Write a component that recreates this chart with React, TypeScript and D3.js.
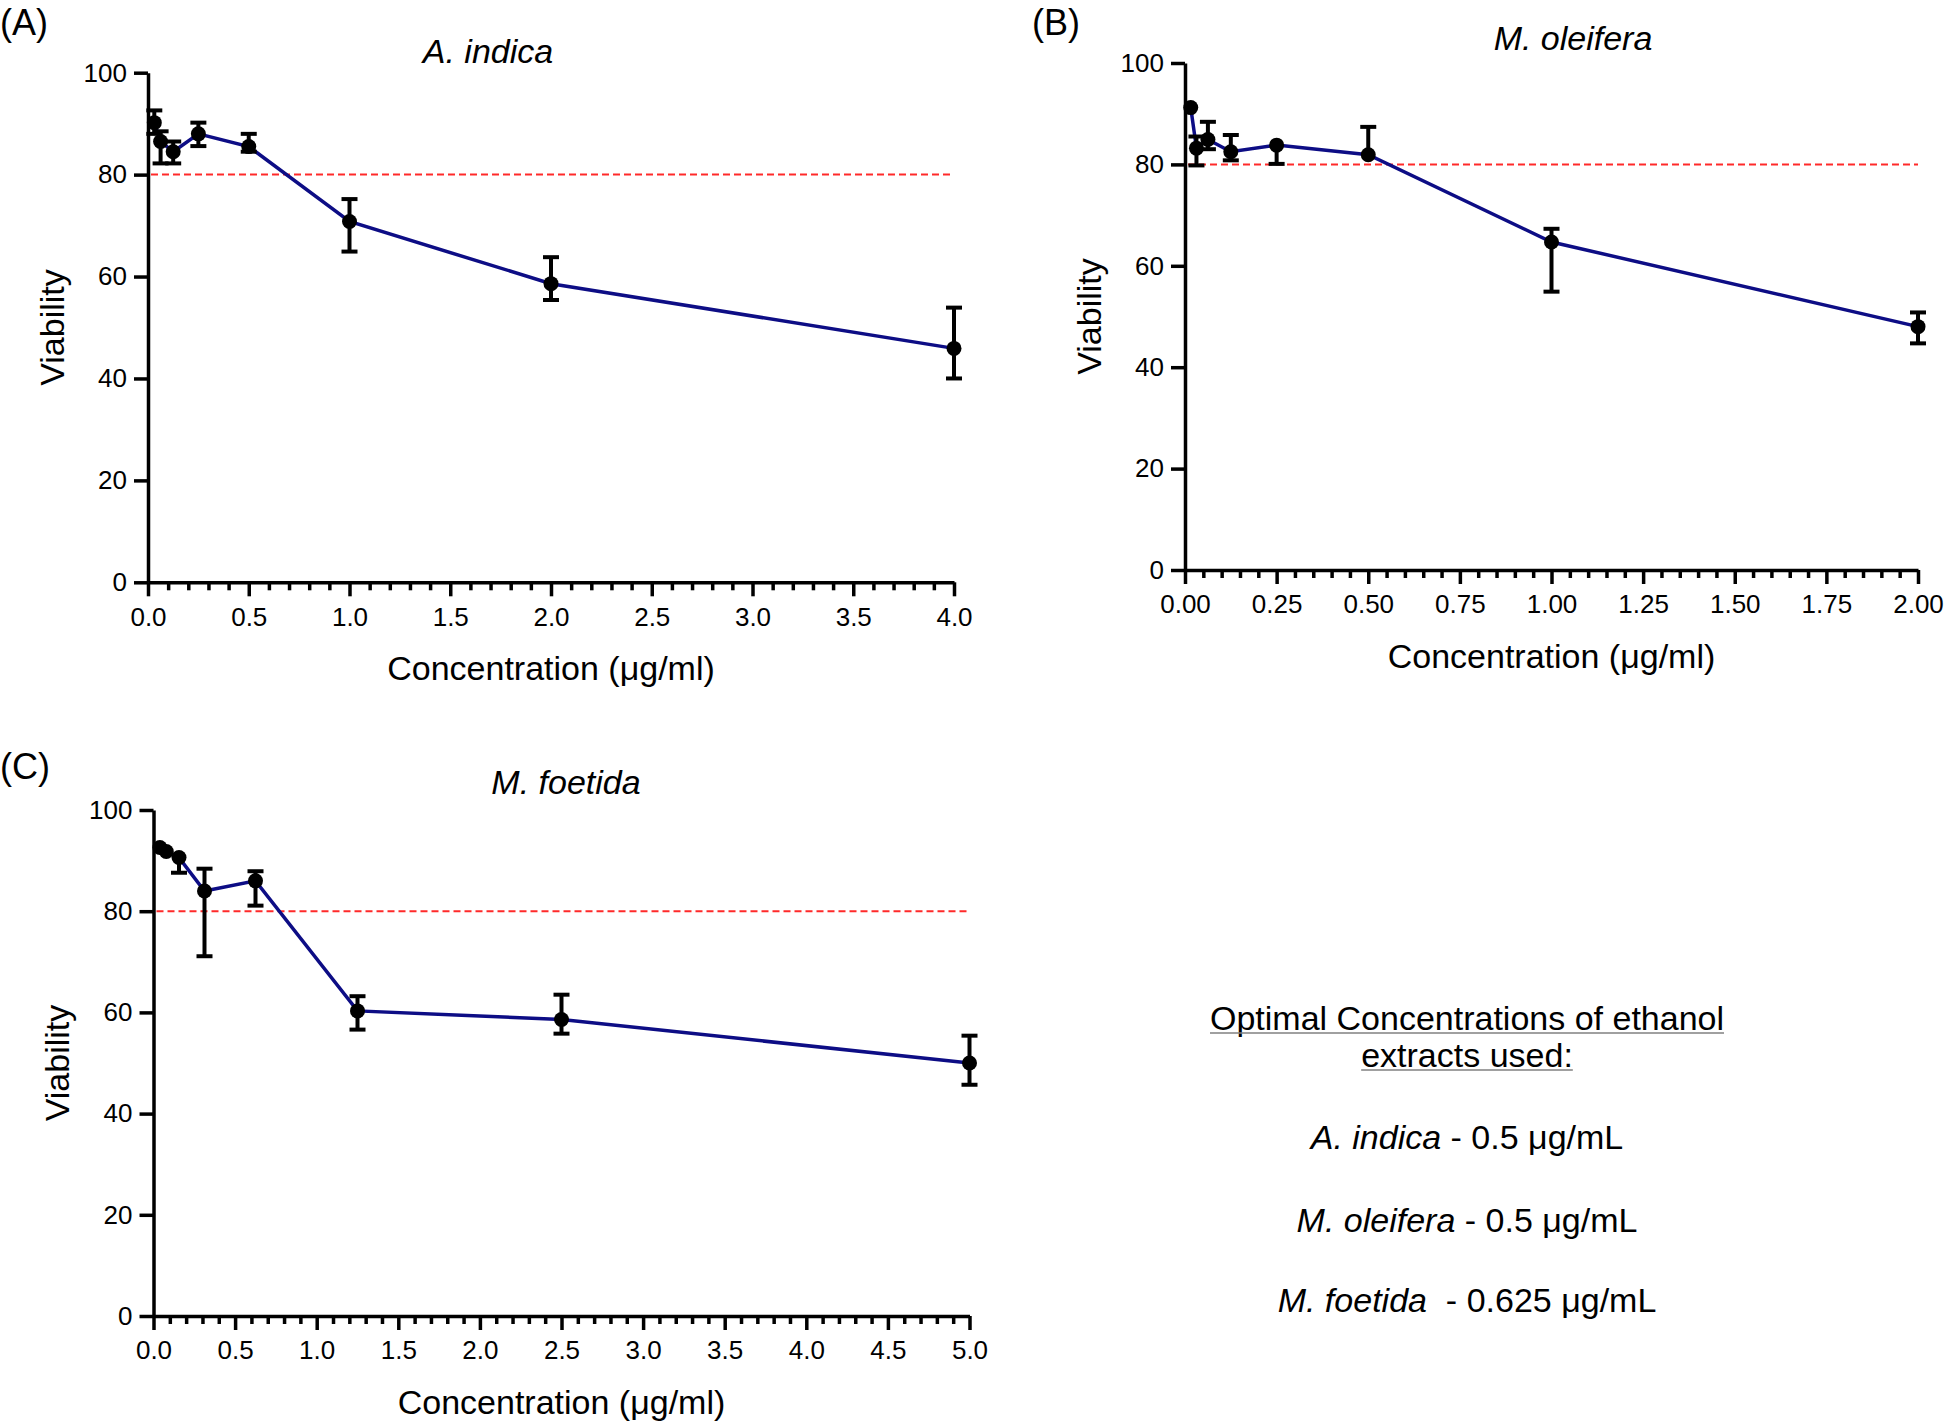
import React, { useRef, useEffect } from 'react'
import * as d3 from 'd3'

// (A) A. indica
const concA = [0.03125, 0.0625, 0.125, 0.25, 0.5, 1, 2, 4]
const meanA = [90.2, 86.5, 84.5, 88.0, 85.5, 70.8, 58.6, 45.9]
const hiA = [92.6, 88.5, 86.5, 90.2, 88.0, 75.2, 63.8, 53.9]
const loA = [88.0, 82.2, 82.2, 85.6, 84.5, 64.9, 55.4, 40.0]

// (B) M. oleifera
const concB = [0.015625, 0.03125, 0.0625, 0.125, 0.25, 0.5, 1, 2]
const meanB = [91.2, 83.2, 84.9, 82.5, 83.8, 81.9, 64.7, 48.0]
const hiB = [91.2, 85.5, 88.4, 85.8, 83.8, 87.4, 67.3, 50.8]
const loB = [91.2, 79.8, 83.0, 80.8, 80.1, 81.9, 54.9, 44.7]

// (C) M. foetida
const concC = [0.0390625, 0.078125, 0.15625, 0.3125, 0.625, 1.25, 2.5, 5]
const meanC = [92.6, 91.8, 90.6, 84.0, 86.0, 60.3, 58.6, 50.0]
const hiC = [92.6, 91.8, 90.6, 88.4, 87.9, 63.2, 63.5, 55.4]
const loC = [92.6, 91.8, 87.6, 71.1, 81.1, 56.6, 55.8, 45.7]

const yTicks = [0, 20, 40, 60, 80, 100]
const cutoff = 80

const noteLines = [
  { it: '', rest: 'Optimal Concentrations of ethanol', under: true },
  { it: '', rest: 'extracts used:', under: true },
  { it: 'A. indica', rest: ' - 0.5 μg/mL', under: false },
  { it: 'M. oleifera', rest: ' - 0.5 μg/mL', under: false },
  { it: 'M. foetida', rest: '  - 0.625 μg/mL', under: false },
]

const FONT = "'Liberation Sans', Arial, Helvetica, sans-serif"
const W = 1946
const H = 1424

const panels = [
  { letter: '(A)', title: 'A. indica', conc: concA, mean: meanA, hi: hiA, lo: loA, xMax: 4, xMajor: 0.5, xMinor: 0.1, fmt: '.1f',
    left: 148, right: 954, top: 72.7, bottom: 582.3, titleX: 488, titleY: 51, letterX: 0, letterY: 22 },
  { letter: '(B)', title: 'M. oleifera', conc: concB, mean: meanB, hi: hiB, lo: loB, xMax: 2, xMajor: 0.25, xMinor: 0.05, fmt: '.2f',
    left: 1185, right: 1918, top: 63, bottom: 570, titleX: 1573, titleY: 38.5, letterX: 1032, letterY: 22 },
  { letter: '(C)', title: 'M. foetida', conc: concC, mean: meanC, hi: hiC, lo: loC, xMax: 5, xMajor: 0.5, xMinor: 0.1, fmt: '.1f',
    left: 153.5, right: 969.5, top: 810, bottom: 1316, titleX: 566, titleY: 782, letterX: 0, letterY: 766 },
]

export default function App() {
  const svgRef = useRef<SVGSVGElement>(null)

  useEffect(() => {
    if (!svgRef.current) return
    const svg = d3.select(svgRef.current)
    svg.selectAll('*').remove()
    svg.append('rect').attr('width', W).attr('height', H).attr('fill', '#fff')

    panels.forEach(p => {
      const x = d3.scaleLinear().domain([0, p.xMax]).range([p.left, p.right])
      const y = d3.scaleLinear().domain([0, 100]).range([p.bottom, p.top])
      const g = svg.append('g')

      // panel letter + title
      g.append('text').attr('x', p.letterX).attr('y', p.letterY).attr('dy', '0.35em')
        .style('font-family', FONT).style('font-size', '36px').text(p.letter)
      g.append('text').attr('x', p.titleX).attr('y', p.titleY).attr('dy', '0.35em')
        .attr('text-anchor', 'middle').style('font-family', FONT).style('font-style', 'italic')
        .style('font-size', '34px').text(p.title)

      // cutoff line
      g.append('line')
        .attr('x1', x(0) + 3).attr('x2', x(p.xMax))
        .attr('y1', y(cutoff)).attr('y2', y(cutoff))
        .attr('stroke', '#ff2a2a').attr('stroke-width', 2).attr('stroke-dasharray', '7,4')

      // minor x ticks
      const majors = d3.range(0, p.xMax + 1e-9, p.xMajor)
      const minors = d3.range(0, p.xMax + 1e-9, p.xMinor)
        .filter(v => !majors.some(m => Math.abs(m - v) < 1e-6))
      g.append('g').attr('transform', `translate(0,${p.bottom})`)
        .call(d3.axisBottom(x).tickValues(minors).tickSize(8).tickSizeOuter(0).tickFormat(() => ''))
        .call(a => a.select('.domain').remove())
        .call(a => a.selectAll('line').attr('stroke', '#000').attr('stroke-width', 3.5))

      // major x axis
      g.append('g').attr('transform', `translate(0,${p.bottom})`)
        .call(d3.axisBottom(x).tickValues(majors).tickSize(14).tickSizeOuter(0).tickPadding(11)
          .tickFormat(d3.format(p.fmt)))
        .call(a => a.select('.domain').attr('stroke', '#000').attr('stroke-width', 3.5))
        .call(a => a.selectAll('line').attr('stroke', '#000').attr('stroke-width', 3.5))
        .call(a => a.selectAll('text').attr('fill', '#000').style('font-family', FONT).style('font-size', '26px'))

      // y axis
      g.append('g').attr('transform', `translate(${p.left},0)`)
        .call(d3.axisLeft(y).tickValues(yTicks).tickSize(14).tickSizeOuter(0).tickPadding(7))
        .call(a => a.select('.domain').attr('stroke', '#000').attr('stroke-width', 3.5))
        .call(a => a.selectAll('line').attr('stroke', '#000').attr('stroke-width', 3.5))
        .call(a => a.selectAll('text').attr('fill', '#000').style('font-family', FONT).style('font-size', '26px'))

      // axis titles
      g.append('text').attr('x', (p.left + p.right) / 2).attr('y', p.bottom + 86).attr('dy', '0.35em')
        .attr('text-anchor', 'middle').style('font-family', FONT).style('font-size', '34px')
        .text('Concentration (μg/ml)')
      g.append('text')
        .attr('transform', `translate(${p.left - 96},${(p.top + p.bottom) / 2}) rotate(-90)`)
        .attr('dy', '0.35em').attr('text-anchor', 'middle')
        .style('font-family', FONT).style('font-size', '34px').text('Viability')

      // data line
      const pts = p.conc.map((c, i) => [c, p.mean[i]] as [number, number])
      const line = d3.line<[number, number]>().x(d => x(d[0])).y(d => y(d[1]))
      g.append('path').datum(pts).attr('d', line).attr('fill', 'none')
        .attr('stroke', '#0d0d85').attr('stroke-width', 3.5)

      // error bars
      p.conc.forEach((c, i) => {
        const cx = x(c)
        if (p.hi[i] > p.mean[i]) {
          g.append('line').attr('x1', cx).attr('x2', cx).attr('y1', y(p.mean[i])).attr('y2', y(p.hi[i]))
            .attr('stroke', '#000').attr('stroke-width', 4)
          g.append('line').attr('x1', cx - 8).attr('x2', cx + 8).attr('y1', y(p.hi[i])).attr('y2', y(p.hi[i]))
            .attr('stroke', '#000').attr('stroke-width', 4)
        }
        if (p.lo[i] < p.mean[i]) {
          g.append('line').attr('x1', cx).attr('x2', cx).attr('y1', y(p.mean[i])).attr('y2', y(p.lo[i]))
            .attr('stroke', '#000').attr('stroke-width', 4)
          g.append('line').attr('x1', cx - 8).attr('x2', cx + 8).attr('y1', y(p.lo[i])).attr('y2', y(p.lo[i]))
            .attr('stroke', '#000').attr('stroke-width', 4)
        }
      })

      // markers
      g.selectAll('circle.pt').data(pts).enter().append('circle')
        .attr('cx', d => x(d[0])).attr('cy', d => y(d[1])).attr('r', 7.5).attr('fill', '#000')
    })

    // note block
    const noteX = 1467
    const noteY = [1018, 1055, 1137, 1220, 1300]
    noteLines.forEach((ln, i) => {
      const t = svg.append('text').attr('x', noteX).attr('y', noteY[i]).attr('dy', '0.35em')
        .attr('text-anchor', 'middle').style('font-family', FONT).style('font-size', '34px')
        .style('white-space', 'pre')
      if (ln.it) t.append('tspan').style('font-style', 'italic').text(ln.it)
      t.append('tspan').text(ln.rest)
      if (ln.under) {
        const node = t.node() as SVGTextElement
        const bb = node.getBBox()
        const base = noteY[i] + 12 + 3
        svg.append('line').attr('x1', bb.x).attr('x2', bb.x + bb.width)
          .attr('y1', base).attr('y2', base).attr('stroke', '#808080').attr('stroke-width', 1.5)
      }
    })
  }, [])

  return (
    <svg ref={svgRef} width={W} height={H}
      style={{ position: 'absolute', left: 0, top: 0, display: 'block' }} />
  )
}
